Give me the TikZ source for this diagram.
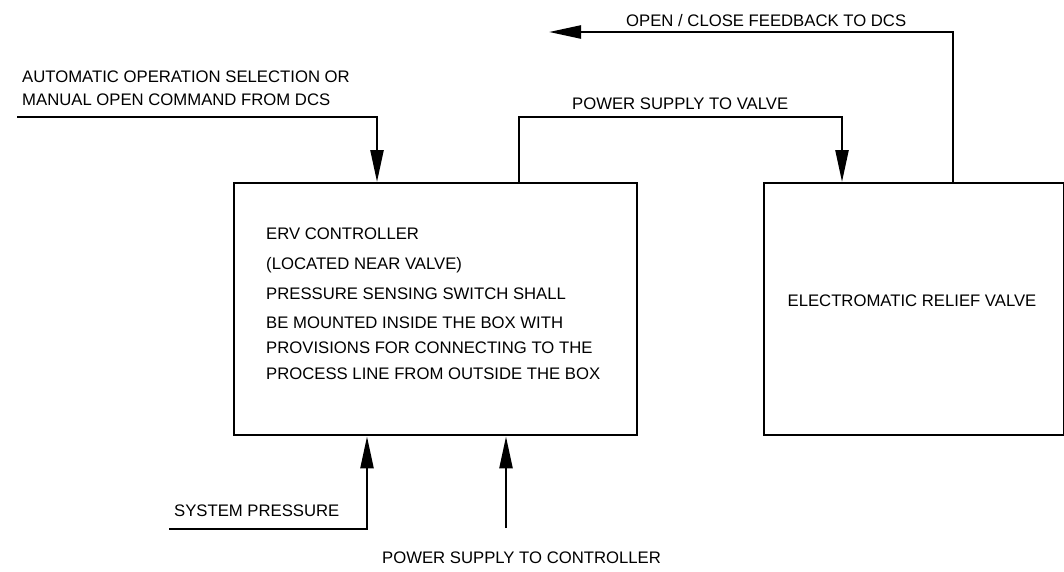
\documentclass[tikz,border=0pt]{standalone}
\usepackage{fontspec}
\setmainfont{Liberation Sans}
\usetikzlibrary{arrows.meta}
\tikzset{
  wire/.style={line width=2.4pt, line join=miter},
  arr/.style={wire, -{Triangle[length=32pt,width=13pt]}},
  blk/.style={draw, line width=2.4pt, anchor=north west, inner sep=0pt},
  lbl/.style={anchor=base west, inner sep=0pt, font=\fontsize{16.7}{20}\selectfont},
}
\begin{document}
\begin{tikzpicture}[x=1pt,y=-1pt]
\useasboundingbox (0,0) rectangle (1064,571);
% boxes
\node[blk, minimum width=403pt, minimum height=252pt] (ctrl) at (233,182) {};
\node[blk, minimum width=300pt, minimum height=252pt] (valve) at (763,182) {};
% controller text
\node[lbl] (c1) at (266,239) {ERV CONTROLLER};
\node[lbl] (c2) at (266,269) {(LOCATED NEAR VALVE)};
\node[lbl] (c3) at (266,299) {PRESSURE SENSING SWITCH SHALL};
\node[lbl] (c4) at (266,328) {BE MOUNTED INSIDE THE BOX WITH};
\node[lbl] (c5) at (266,353) {PROVISIONS FOR CONNECTING TO THE};
\node[lbl] (c6) at (266,379) {PROCESS LINE FROM OUTSIDE THE BOX};
% valve text
\node[lbl, anchor=base] (v1) at (912,306) {ELECTROMATIC RELIEF VALVE};
% external labels
\node[lbl] (a1) at (22,82) {AUTOMATIC OPERATION SELECTION OR};
\node[lbl] (a2) at (22,105) {MANUAL OPEN COMMAND FROM DCS};
\node[lbl] (fb) at (626,26) {OPEN / CLOSE FEEDBACK TO DCS};
\node[lbl] (pv) at (572,109) {POWER SUPPLY TO VALVE};
\node[lbl] (sp) at (174,516) {SYSTEM PRESSURE};
\node[lbl] (pc) at (382,563) {POWER SUPPLY TO CONTROLLER};
% free ends
\coordinate (ain) at (17,117);
\coordinate (fbout) at (549,32);
\coordinate (spin) at (169,529);
\coordinate (pcin) at (506,528);
% connectors
\draw[arr] (ain) -| ([xshift=144pt]ctrl.north west);
\draw[arr] ([xshift=286pt]ctrl.north west) |- (842,117) -- ([xshift=79pt]valve.north west);
\draw[arr] ([xshift=190pt]valve.north west) |- (fbout);
\draw[arr] (spin) -| ([xshift=134pt]ctrl.south west);
\draw[arr] (pcin) -- ([xshift=273pt]ctrl.south west);
\end{tikzpicture}
\end{document}
